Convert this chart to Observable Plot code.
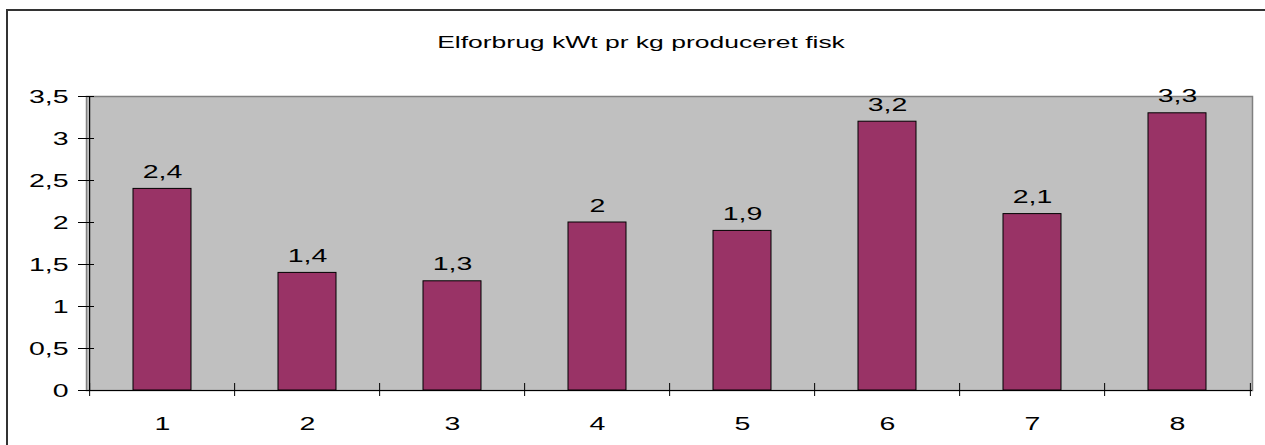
<!DOCTYPE html>
<html>
<head>
<meta charset="utf-8">
<script src="https://cdn.jsdelivr.net/npm/d3@7"></script>
<script src="https://cdn.jsdelivr.net/npm/@observablehq/plot@0.6"></script>
<style>
  html, body { margin: 0; padding: 0; background: #ffffff; }
  #chart svg { display: block; }
</style>
</head>
<body>
<div id="chart"></div>
<script>
const title = "Elforbrug kWt pr kg produceret fisk";
const categories = ["1", "2", "3", "4", "5", "6", "7", "8"];
const values = [2.4, 1.4, 1.3, 2.0, 1.9, 3.2, 2.1, 3.3];
const yTicks = [0, 0.5, 1, 1.5, 2, 2.5, 3, 3.5];

const data = categories.map((c, i) => ({cat: c, value: values[i]}));
const fmt = d => String(d).replace(".", ",");

const W = 1265, H = 445;
const mL = 86, mR = 13, mT = 96, mB = 55;
const plotW = W - mL - mR;
const step = plotW / categories.length;

const chart = Plot.plot({
  width: W,
  height: H,
  marginLeft: mL,
  marginRight: mR,
  marginTop: mT,
  marginBottom: mB,
  style: {fontFamily: "'Liberation Sans', Arial, sans-serif", fontSize: "19px", color: "#000", background: "#ffffff"},
  x: {domain: categories, paddingInner: 0.6, paddingOuter: 0.3, label: null},
  y: {domain: [0, 3.5], label: null},
  marks: [
    Plot.frame({fill: "#c0c0c0", stroke: "#808080", strokeWidth: 1.5}),
    Plot.barY(data, {x: "cat", y: "value", fill: "#993366", stroke: "#000", strokeWidth: 1}),
    Plot.ruleY(yTicks, {y: d => d, stroke: "#000", insetLeft: -8, insetRight: plotW - 8}),
    Plot.ruleX(categories, {x: d => d, dx: -step / 2, y1: 0, y2: 0, insetTop: -7, insetBottom: -6, stroke: "#000"}),
    Plot.ruleX([categories[categories.length - 1]], {x: d => d, dx: step / 2, y1: 0, y2: 0, insetTop: -7, insetBottom: -6, stroke: "#000"}),
    Plot.ruleX([categories[0]], {x: d => d, dx: -step / 2, stroke: "#000", strokeWidth: 1.2}),
    Plot.ruleY([0], {stroke: "#000", strokeWidth: 1.2}),
    Plot.axisY({ticks: yTicks, tickSize: 0, tickPadding: 18, tickFormat: fmt, fontSize: 19, label: null}),
    Plot.axisX({tickSize: 0, tickPadding: 26, fontSize: 19, label: null}),
    Plot.text(data, {x: "cat", y: "value", text: d => fmt(d.value), dy: -17, fontSize: 19, fill: "#000"})
  ]
});

document.getElementById("chart").appendChild(chart);

const svg = d3.select(chart);
const SX = 1.5;
// horizontally widen the glyphs around each text's anchor point, as in the reference
svg.selectAll("text").each(function() {
  const x = +(this.getAttribute("x") || 0);
  const t = this.getAttribute("transform") || "";
  this.setAttribute("transform", `${t} translate(${x},0) scale(${SX},1) translate(${-x},0)`);
});

// outer chart border
svg.append("rect")
  .attr("x", 7).attr("y", 10)
  .attr("width", W + 20).attr("height", H + 20)
  .attr("fill", "none").attr("stroke", "#333").attr("stroke-width", 2);

// title
const tt = svg.append("text")
  .attr("text-anchor", "middle")
  .attr("dominant-baseline", "central")
  .attr("font-size", 17)
  .attr("font-family", "'Liberation Sans', Arial, sans-serif")
  .attr("fill", "#000")
  .text(title);
const tw = tt.node().getComputedTextLength();
tt.attr("transform", `translate(641,42) scale(${408 / tw},1)`);
</script>
</body>
</html>
